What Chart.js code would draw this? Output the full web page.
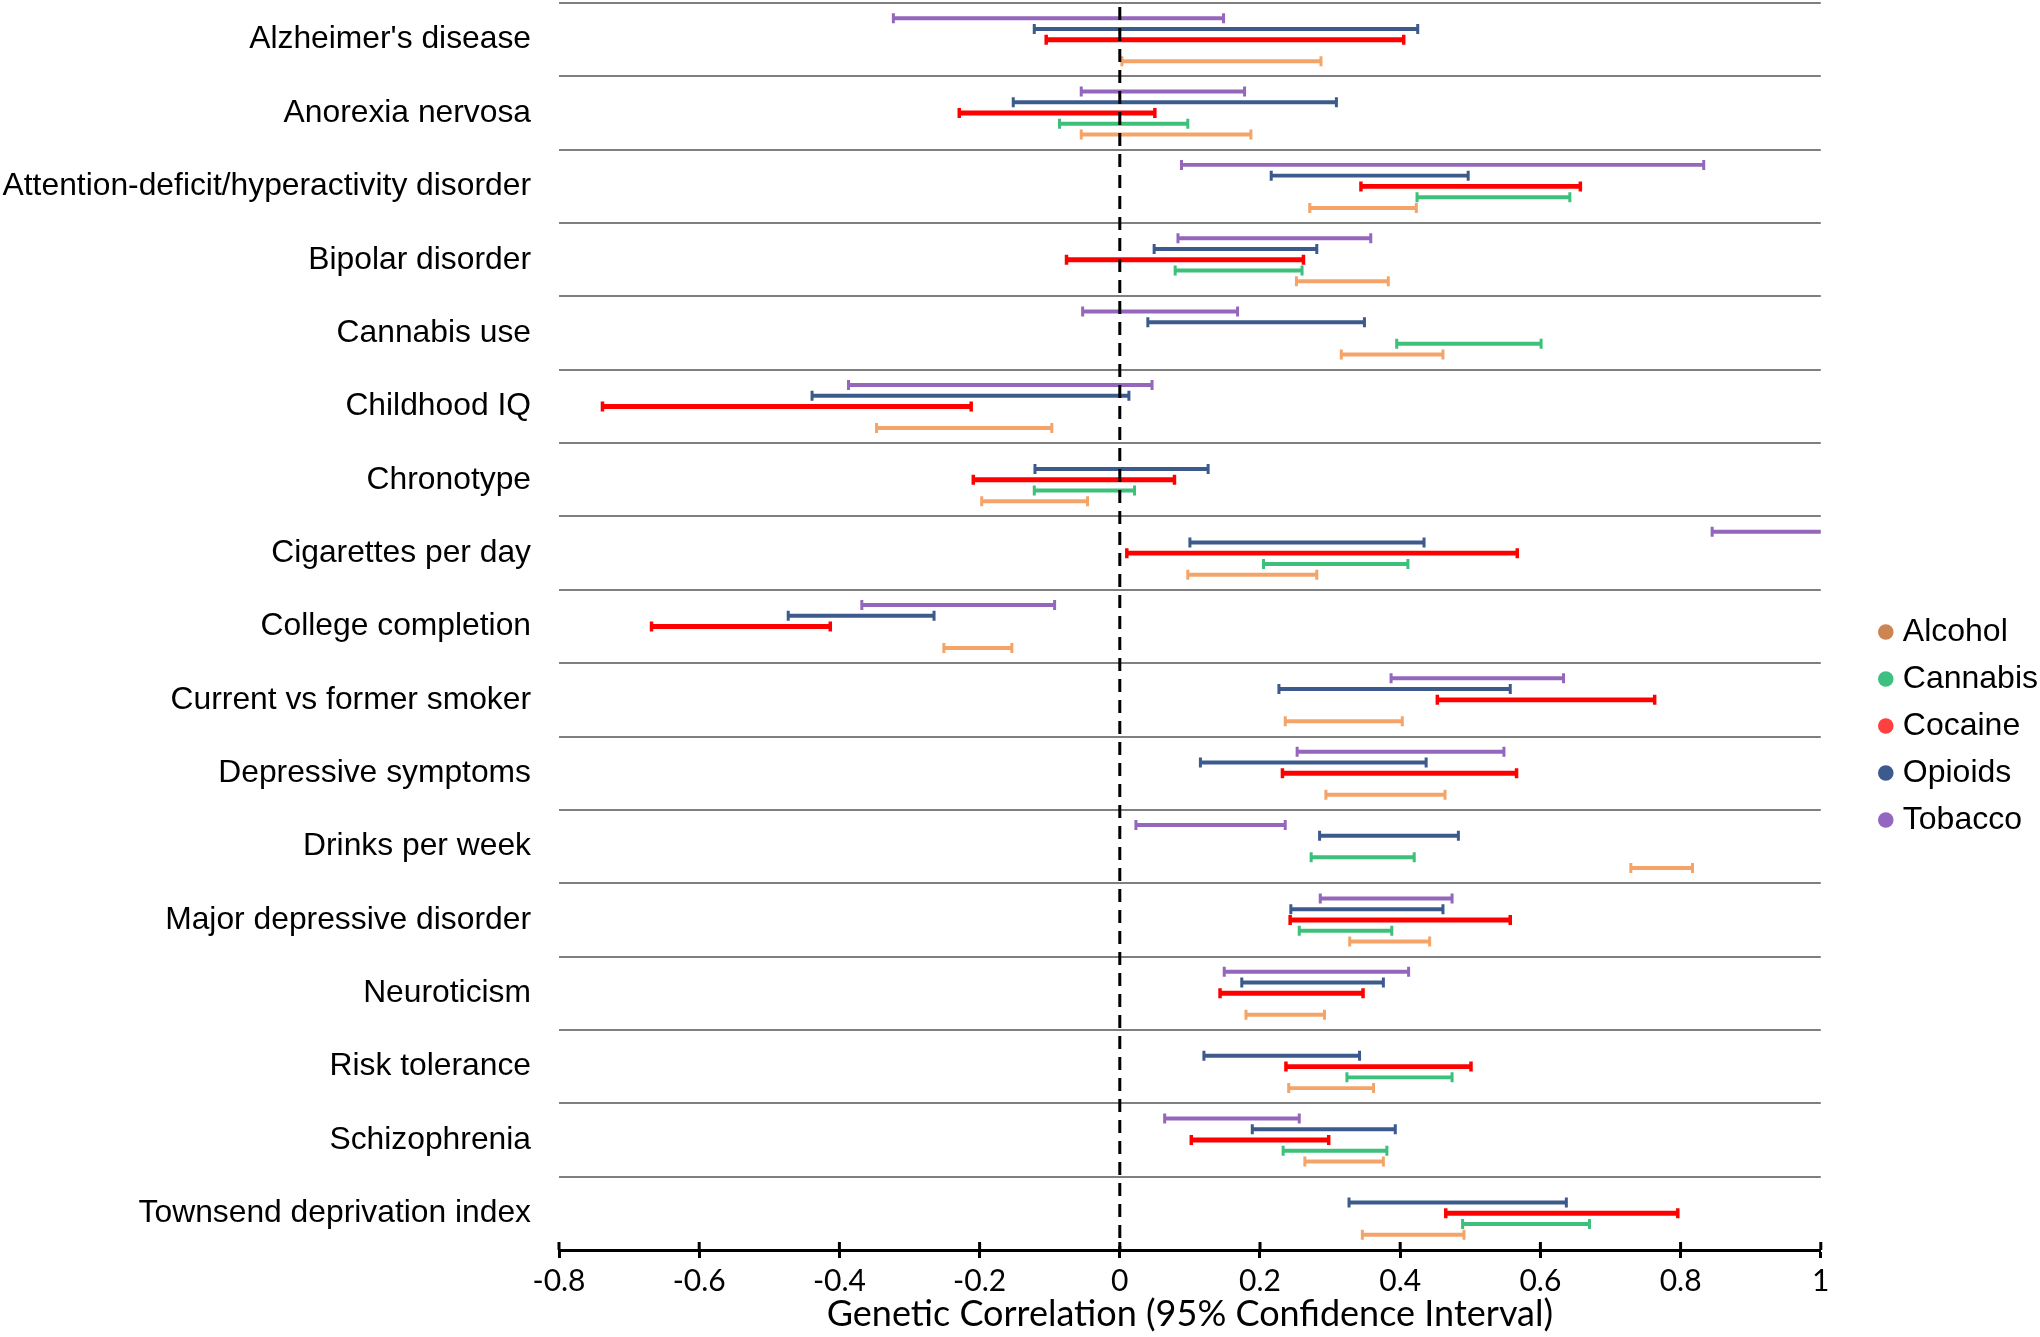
<!DOCTYPE html>
<html>
<head>
<meta charset="utf-8">
<script src="https://cdn.jsdelivr.net/npm/chart.js@4.4.1/dist/chart.umd.min.js"></script>
<style>
  html, body { margin: 0; padding: 0; background: #fff; }
  canvas { display: block; }
</style>
</head>
<body>
<canvas id="myPlot" width="2040" height="1337"></canvas>
<script>
const traits = ["Alzheimer's disease", "Anorexia nervosa", "Attention-deficit/hyperactivity disorder",
  "Bipolar disorder", "Cannabis use", "Childhood IQ", "Chronotype", "Cigarettes per day",
  "College completion", "Current vs former smoker", "Depressive symptoms", "Drinks per week",
  "Major depressive disorder", "Neuroticism", "Risk tolerance", "Schizophrenia",
  "Townsend deprivation index"];

// 95% CI [low, high] per trait, null = not reported
const tobacco = [[-0.323, 0.148], [-0.055, 0.178], [0.088, 0.833], [0.083, 0.358], [-0.053, 0.168],
  [-0.387, 0.046], null, [0.845, 1.05], [-0.368, -0.093], [0.387, 0.633], [0.253, 0.548],
  [0.023, 0.236], [0.286, 0.474], [0.149, 0.412], null, [0.064, 0.256], null];
const opioids = [[-0.122, 0.425], [-0.152, 0.309], [0.216, 0.497], [0.049, 0.281], [0.040, 0.349],
  [-0.439, 0.013], [-0.121, 0.126], [0.100, 0.434], [-0.473, -0.265], [0.227, 0.557], [0.115, 0.437],
  [0.285, 0.483], [0.244, 0.461], [0.174, 0.376], [0.120, 0.342], [0.189, 0.393], [0.327, 0.637]];
const cocaine = [[-0.105, 0.405], [-0.229, 0.050], [0.344, 0.657], [-0.076, 0.262], null,
  [-0.738, -0.212], [-0.209, 0.078], [0.010, 0.567], [-0.668, -0.413], [0.453, 0.763], [0.232, 0.566],
  null, [0.243, 0.557], [0.143, 0.347], [0.237, 0.501], [0.102, 0.298], [0.465, 0.796]];
const cannabis = [null, [-0.086, 0.097], [0.424, 0.642], [0.079, 0.260], [0.395, 0.601],
  null, [-0.122, 0.021], [0.205, 0.411], null, null, null,
  [0.273, 0.420], [0.256, 0.388], null, [0.324, 0.474], [0.233, 0.381], [0.489, 0.670]];
const alcohol = [[0.003, 0.287], [-0.055, 0.187], [0.271, 0.423], [0.252, 0.383], [0.316, 0.461],
  [-0.347, -0.097], [-0.197, -0.046], [0.097, 0.281], [-0.251, -0.154], [0.236, 0.403], [0.294, 0.464],
  [0.729, 0.817], [0.328, 0.442], [0.180, 0.292], [0.241, 0.362], [0.264, 0.376], [0.346, 0.491]];

const labelFont = "'Liberation Sans', Arial, sans-serif";
const axisFont = "Lato, 'Open Sans', sans-serif";

function series(name, data, color, dotColor, thick) {
  return {
    label: name,
    data: data,
    backgroundColor: color,
    legendColor: dotColor,
    borderWidth: 0,
    barPercentage: thick,
    categoryPercentage: 0.733
  };
}

// end caps of each interval, dashed zero line and the axis ticks above the line
const ciDecor = {
  id: 'ciDecor',
  beforeLayout(chart) {
    const legend = chart.legend;
    if (legend && !legend._wrapped) {
      const fit = legend.fit;
      legend.fit = function () { fit.call(this); this.width += 41; };
      legend._wrapped = true;
    }
  },
  afterLayout(chart) {
    const legend = chart.legend;
    legend.left += 49; legend.right += 49;
    legend.top += 56; legend.bottom += 56;
  },
  afterDatasetsDraw(chart) {
    const { ctx, chartArea } = chart;
    const xs = chart.scales.x;
    ctx.save();
    ctx.beginPath();
    ctx.rect(chartArea.left, chartArea.top, chartArea.width, chartArea.height);
    ctx.clip();
    chart.data.datasets.forEach((ds, i) => {
      const meta = chart.getDatasetMeta(i);
      ctx.strokeStyle = ds.backgroundColor;
      ctx.lineWidth = ds.label === 'Cocaine' ? 3.5 : 3;
      meta.data.forEach((bar, j) => {
        if (!ds.data[j]) return;
        [bar.x, bar.base].forEach(px => {
          ctx.beginPath();
          ctx.moveTo(px, bar.y - 5);
          ctx.lineTo(px, bar.y + 5);
          ctx.stroke();
        });
      });
    });
    ctx.restore();

    ctx.save();
    const x0 = xs.getPixelForValue(0);
    ctx.strokeStyle = '#000';
    ctx.lineWidth = 3;
    ctx.setLineDash([13, 8]);
    ctx.beginPath();
    ctx.moveTo(x0, chartArea.top + 4);
    ctx.lineTo(x0, chartArea.bottom);
    ctx.stroke();
    ctx.setLineDash([]);
    xs.ticks.forEach(t => {
      const px = xs.getPixelForValue(t.value);
      ctx.beginPath();
      ctx.moveTo(px, chartArea.bottom - 8);
      ctx.lineTo(px, chartArea.bottom);
      ctx.stroke();
    });
    ctx.restore();
  }
};

new Chart("myPlot", {
  type: "bar",
  data: {
    labels: traits,
    datasets: [
      series("Tobacco", tobacco, "#9467bd", "#9466c0", 0.37),
      series("Opioids", opioids, "#3c5a8c", "#3c5a8c", 0.37),
      series("Cocaine", cocaine, "#ff0000", "#ff4040", 0.46),
      series("Cannabis", cannabis, "#3dc07a", "#40c080", 0.37),
      series("Alcohol", alcohol, "#f4a468", "#cc8450", 0.37)
    ]
  },
  options: {
    indexAxis: 'y',
    responsive: false,
    animation: false,
    layout: { padding: { top: 3, left: 0, right: 0, bottom: 0 } },
    scales: {
      x: {
        min: -0.8,
        max: 1,
        afterFit(scale) { scale.height = 87; },
        ticks: {
          stepSize: 0.2,
          color: '#000',
          padding: 5,
          font: { family: axisFont, size: 30 },
          callback: v => String(Number(v.toFixed(1)))
        },
        grid: { drawOnChartArea: false, drawTicks: true, tickLength: 8, tickColor: '#000', tickWidth: 3 },
        border: { display: true, color: '#000', width: 3 },
        title: {
          display: true,
          text: 'Genetic Correlation (95% Confidence Interval)',
          color: '#000',
          font: { family: axisFont, size: 36 },
          padding: { top: 0, bottom: 1 }
        }
      },
      y: {
        afterFit(scale) {
          scale.width = 559;
          scale.paddingTop = 0;
          scale.paddingBottom = 0;
        },
        ticks: { color: '#000', padding: 28, font: { family: labelFont, size: 31.8 } },
        grid: {
          offset: true,
          drawTicks: false,
          lineWidth: 2,
          color: ctx => ctx.index === traits.length ? 'rgba(0,0,0,0)' : '#7f7f7f'
        },
        border: { display: false }
      }
    },
    plugins: {
      tooltip: { enabled: false },
      legend: {
        position: 'right',
        reverse: true,
        labels: {
          usePointStyle: true,
          pointStyle: 'circle',
          boxWidth: 2,
          boxHeight: 11,
          padding: 15,
          color: '#000',
          font: { family: labelFont, size: 32 },
          generateLabels(chart) {
            const items = Chart.defaults.plugins.legend.labels.generateLabels(chart);
            items.forEach(it => {
              const ds = chart.data.datasets[it.datasetIndex];
              it.fillStyle = ds.legendColor;
              it.strokeStyle = ds.legendColor;
              it.lineWidth = 0;
              it.pointStyle = 'circle';
            });
            return items;
          }
        }
      }
    }
  },
  plugins: [ciDecor]
});
</script>
</body>
</html>
